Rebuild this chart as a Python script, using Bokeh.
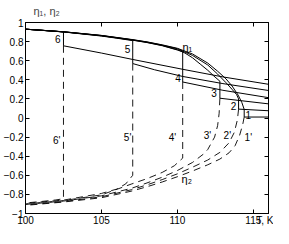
from bokeh.plotting import figure
from bokeh.models import LinearAxis, FixedTicker, CustomLabelingPolicy
from bokeh.core.properties import value
from bokeh.embed import file_html
from bokeh.resources import INLINE

FONT = "Liberation Sans"

x_min, x_max = 100, 116
x_ticks = [100, 105, 110, 115]
x_tick_labels = ["100", "105", "110", "115"]
y_ticks = [-1, -0.8, -0.6, -0.4, -0.2, 0, 0.2, 0.4, 0.6, 0.8, 1]
y_tick_labels = ["\u22121", "\u22120.8", "\u22120.6", "\u22120.4", "\u22120.2", "0",
                 "0.2", "0.4", "0.6", "0.8", "1"]
y_axis_title = "\u03b7\u2081, \u03b7\u2082"
x_axis_title = "T, K"

# eta1, upper (stable) branch of each case, up to its jump temperature
upper_1 = [(100, 0.93), (102.5, 0.903), (105, 0.865), (107, 0.822), (108, 0.797), (109, 0.766),
           (110, 0.73), (111, 0.67), (112, 0.575), (112.65, 0.49), (113.2, 0.41), (113.6, 0.335),
           (114.0, 0.24), (114.25, 0.16), (114.4, 0.09)]
upper_2 = [(100, 0.93), (102.5, 0.903), (105, 0.864), (107, 0.82), (108, 0.795), (109, 0.763),
           (110, 0.725), (111, 0.655), (112, 0.555), (112.65, 0.46), (113.2, 0.37), (113.6, 0.30),
           (113.9, 0.245), (114.03, 0.2)]
upper_3 = [(100, 0.93), (102.5, 0.902), (105, 0.862), (107, 0.818), (108, 0.792), (109, 0.76),
           (110, 0.715), (110.5, 0.68), (111, 0.63), (111.5, 0.565), (112, 0.5), (112.4, 0.44),
           (112.8, 0.385)]
upper_4 = [(100, 0.93), (102.5, 0.902), (105, 0.861), (107, 0.816), (108, 0.79), (109, 0.757),
           (110, 0.712), (110.35, 0.695)]
upper_5 = [(100, 0.93), (102.5, 0.901), (105, 0.858), (106, 0.836), (107.06, 0.81)]
upper_6 = [(100, 0.93), (101, 0.92), (102, 0.908), (102.5, 0.9)]

# eta1, lower branch after the jump
lower_1 = [(114.4, 0.01), (116, 0.01)]
lower_2 = [(114.03, 0.093), (116, 0.076)]
lower_3 = [(112.8, 0.207), (116, 0.148)]
lower_4 = [(110.35, 0.377), (113, 0.29), (116, 0.213)]
lower_5 = [(107.06, 0.57), (108.5, 0.505), (110.35, 0.435), (113, 0.36), (116, 0.288)]
lower_6 = [(102.5, 0.756), (105, 0.68), (107.06, 0.613), (110.35, 0.51), (113, 0.43), (116, 0.353)]

# eta2 (dashed) branch of each case
eta2_1 = [(100, -0.915), (102.5, -0.88), (105, -0.835), (107, -0.765), (108, -0.72), (109, -0.67),
          (110, -0.615), (111, -0.555), (112, -0.49), (112.8, -0.43), (113.4, -0.365),
          (113.8, -0.29), (114.1, -0.18), (114.3, -0.07), (114.4, 0.01)]
eta2_2 = [(100, -0.91), (102.5, -0.875), (105, -0.825), (107, -0.75), (108, -0.70), (109, -0.645),
          (110, -0.585), (111, -0.515), (112, -0.44), (112.8, -0.36), (113.4, -0.26),
          (113.75, -0.15), (113.95, -0.02), (114.03, 0.093)]
eta2_3 = [(100, -0.905), (102.5, -0.87), (105, -0.815), (107, -0.735), (108, -0.68), (109, -0.62),
          (110, -0.55), (111, -0.465), (111.7, -0.38), (112, -0.33), (112.45, -0.2),
          (112.65, -0.08), (112.75, 0.05), (112.8, 0.207)]
eta2_4 = [(100, -0.9), (102.5, -0.865), (105, -0.805), (107, -0.69), (108, -0.635), (109, -0.57),
          (109.8, -0.5), (110.35, -0.42)]
eta2_5 = [(100, -0.895), (102.5, -0.86), (105, -0.79), (106, -0.745), (106.6, -0.69),
          (107.06, -0.6)]
eta2_6 = [(100, -0.89), (101, -0.875), (102, -0.858), (102.5, -0.845)]

case_labels = ["1", "2", "3", "4", "5", "6"]
case_label_T = [114.67, 113.69, 112.42, 110.05, 106.72, 102.12]
case_label_eta = [0.034, 0.125, 0.265, 0.418, 0.727, 0.83]
prime_labels = ["1'", "2'", "3'", "4'", "5'", "6'"]
prime_label_T = [114.67, 113.29, 111.98, 109.68, 106.72, 102.06]
prime_label_eta = [-0.2, -0.183, -0.183, -0.2, -0.2, -0.232]
branch_labels = ["\u03b7\u2081", "\u03b7\u2082"]
branch_label_T = [110.66, 110.62]
branch_label_eta = [0.745, -0.64]

uppers = [upper_1, upper_2, upper_3, upper_4, upper_5, upper_6]
lowers = [lower_1, lower_2, lower_3, lower_4, lower_5, lower_6]
eta2s = [eta2_1, eta2_2, eta2_3, eta2_4, eta2_5, eta2_6]

p = figure(width=273, height=228, x_range=(x_min, x_max), y_range=(-1, 1),
           output_backend="svg", toolbar_location=None, title=y_axis_title,
           min_border_left=0, min_border_right=0, min_border_top=0, min_border_bottom=0)
p.title.text_font = FONT
p.title.text_font_size = "11px"
p.title.text_font_style = "normal"
p.title.standoff = 4
p.title.offset = 8
p.title.align = "left"
p.grid.visible = False
p.background_fill_color = "white"
p.border_fill_color = "white"
p.outline_line_color = "black"
p.outline_line_width = 1

# bottom axis: numeric ticks plus the axis title at the right end of the range
bottom_labels = dict(zip(x_ticks, x_tick_labels))
bottom_labels[x_max] = "\u00a0" + x_axis_title
p.xaxis.ticker = FixedTicker(ticks=x_ticks + [x_max])
p.xaxis.major_label_overrides = bottom_labels
p.yaxis.ticker = FixedTicker(ticks=y_ticks)
p.yaxis.major_label_overrides = dict(zip(y_ticks, y_tick_labels))
for ax in [p.xaxis[0], p.yaxis[0]]:
    ax.major_tick_in = 4
    ax.major_tick_out = 0
    ax.minor_tick_line_color = None
    ax.axis_line_color = "black"
    ax.major_tick_line_color = "black"
    ax.major_label_text_font = FONT
    ax.major_label_text_font_size = "10px"
    ax.major_label_text_color = "black"
    ax.axis_label_standoff = 0
p.yaxis.major_label_standoff = 2
p.xaxis[0].minor_tick_out = 0
p.xaxis[0].minor_tick_in = 0
p.xaxis.major_label_standoff = 1
p.xaxis.major_label_text_line_height = 0.6

hide_all = "const n = indices.size; for (let i = 0; i < n; i++) { indices.unset(i) } return indices"

top = LinearAxis(ticker=FixedTicker(ticks=x_ticks), major_label_text_font_size="1px",
                 major_label_policy=CustomLabelingPolicy(code=hide_all),
                 major_tick_in=4, major_tick_out=0, minor_tick_line_color=None,
                 minor_tick_in=0, minor_tick_out=0,
                 major_label_standoff=0, axis_label_standoff=0, axis_line_color="black")
p.add_layout(top, "above")
right = LinearAxis(ticker=FixedTicker(ticks=y_ticks), major_label_text_font_size="1px",
                   major_label_policy=CustomLabelingPolicy(code=hide_all),
                   major_tick_in=4, major_tick_out=0, minor_tick_line_color=None,
                   minor_tick_in=0, minor_tick_out=0,
                   major_label_standoff=0, axis_label_standoff=0, axis_line_color="black")
p.add_layout(right, "right")

solid_xs, solid_ys, dash_xs, dash_ys = [], [], [], []
for up, lo, e2 in zip(uppers, lowers, eta2s):
    pts = up + lo
    solid_xs.append([t for t, _ in pts])
    solid_ys.append([v for _, v in pts])
    d = list(reversed(e2))
    if d[0] != lo[0]:
        d = [lo[0]] + d
    dash_xs.append([t for t, _ in d])
    dash_ys.append([v for _, v in d])

p.multi_line(solid_xs, solid_ys, line_color="black", line_width=1)
p.multi_line(dash_xs, dash_ys, line_color="black", line_width=0.9, line_dash="7 5")

p.text(case_label_T, case_label_eta, text=case_labels, text_font=value(FONT),
       text_font_size="10px", text_align="center", text_baseline="middle", text_color="black")
p.text(prime_label_T, prime_label_eta, text=prime_labels, text_font=value(FONT),
       text_font_size="10px", text_align="center", text_baseline="middle", text_color="black")
p.text(branch_label_T, branch_label_eta, text=branch_labels, text_font=value(FONT),
       text_font_size="11px", text_align="center", text_baseline="middle", text_color="black")

open("out.html", "w").write(file_html(p, INLINE))
